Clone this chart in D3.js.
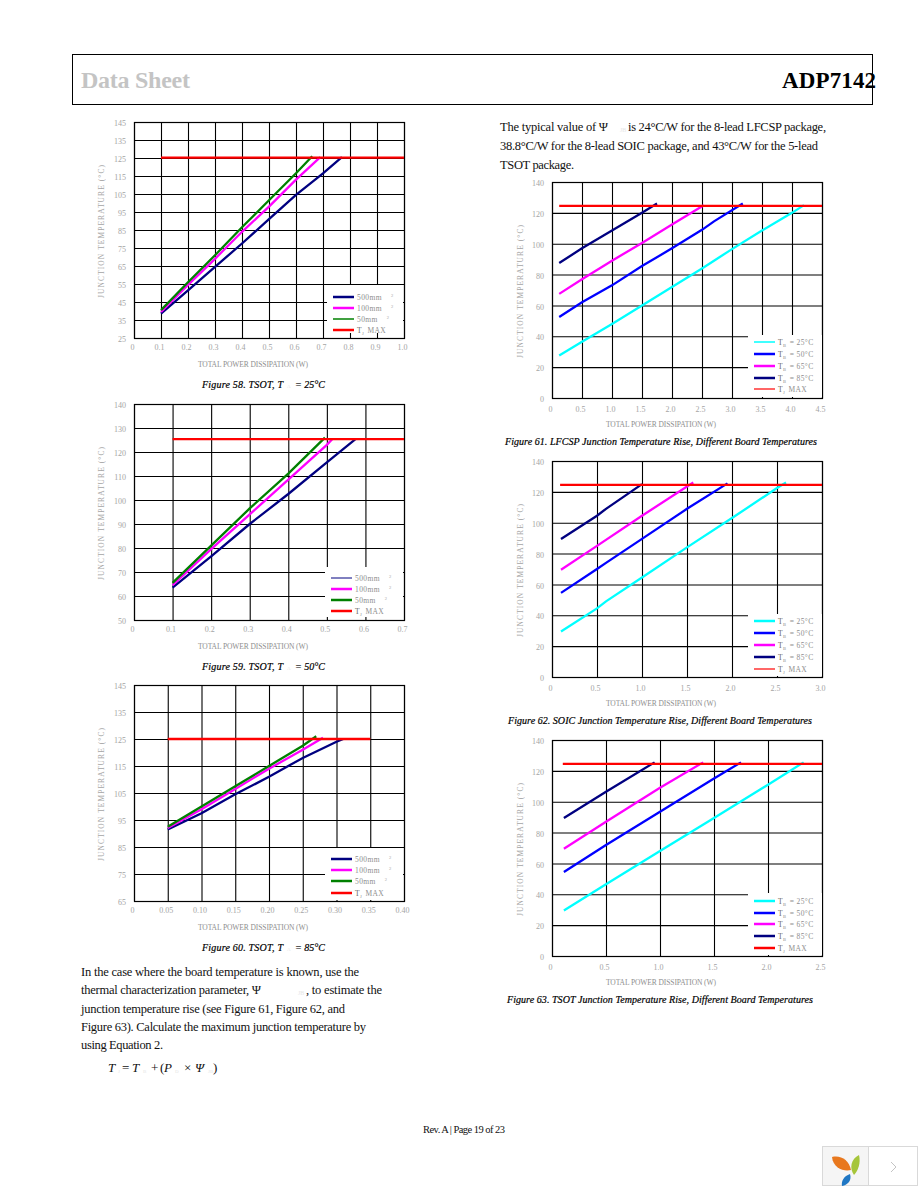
<!DOCTYPE html>
<html><head><meta charset="utf-8">
<script src="https://cdn.jsdelivr.net/npm/d3@7"></script>
<style>
html,body{margin:0;padding:0;background:#fff}
svg{display:block}
text{font-family:"Liberation Serif",serif}
</style></head><body>
<svg id="page" width="918" height="1188"></svg>
<script>
// ---------- DATA ----------
const xTicks58 = [0,0.1,0.2,0.3,0.4,0.5,0.6,0.7,0.8,0.9,1.0];
const yTicks58 = [25,35,45,55,65,75,85,95,105,115,125,135,145];
const xTicks59 = [0,0.1,0.2,0.3,0.4,0.5,0.6,0.7];
const yTicks59 = [50,60,70,80,90,100,110,120,130,140];
const xTicks60 = [0,0.05,0.10,0.15,0.20,0.25,0.30,0.35,0.40];
const yTicks60 = [65,75,85,95,105,115,125,135,145];
const xTicks61 = [0,0.5,1.0,1.5,2.0,2.5,3.0,3.5,4.0,4.5];
const xTicks62 = [0,0.5,1.0,1.5,2.0,2.5,3.0];
const xTicks63 = [0,0.5,1.0,1.5,2.0,2.5];
const yTicksRise = [0,20,40,60,80,100,120,140];

const areaNames = ["500mm","100mm","50mm"];
const boardNames = ["25°C","50°C","65°C","85°C"];

const f58_500 = [[0.1,38.5],[0.2,51.5],[0.3,64.5],[0.4,77.5],[0.5,91],[0.6,104.5],[0.7,116.5],[0.77,125.5]];
const f58_100 = [[0.1,39.5],[0.2,54.5],[0.3,69],[0.4,84],[0.5,98],[0.6,113],[0.69,125.5]];
const f58_50  = [[0.1,40.5],[0.2,56],[0.3,71],[0.4,86.5],[0.5,101.5],[0.6,116.5],[0.66,126]];
const f58_max = [[0.1,125.2],[1.0,125.2]];

const f59_500 = [[0.1,63.5],[0.2,76.5],[0.3,90],[0.4,102.5],[0.5,115.7],[0.575,125.5]];
const f59_100 = [[0.1,64.5],[0.2,79.5],[0.3,94],[0.4,108.5],[0.5,123],[0.515,125.5]];
const f59_50  = [[0.1,65.5],[0.2,81],[0.3,96.5],[0.4,111],[0.495,126]];
const f59_max = [[0.1,125.4],[0.7,125.4]];

const f60_500 = [[0.05,91.5],[0.1,97.5],[0.15,104.5],[0.2,111],[0.25,118],[0.3,124],[0.31,125]];
const f60_100 = [[0.05,92],[0.1,99],[0.15,106.5],[0.2,114],[0.25,121],[0.28,125.5]];
const f60_50  = [[0.05,92.5],[0.1,100],[0.15,107.5],[0.2,115],[0.25,122.5],[0.27,126]];
const f60_max = [[0.05,125],[0.35,125]];

const f61_25 = [[0.12,27.5],[0.5,36.5],[1.0,48],[1.5,60],[2.0,72],[2.5,84],[2.7,89],[3.0,96.5],[3.5,108.5],[4.0,120],[4.2,125]];
const f61_50 = [[0.12,52.5],[0.5,62],[1.0,73],[1.5,85.5],[2.0,97],[2.5,109],[2.7,114.5],[3.18,126]];
const f61_65 = [[0.12,67.5],[0.5,77],[1.0,89],[1.5,100.5],[2.0,112.5],[2.53,125]];
const f61_85 = [[0.12,87.5],[0.5,97],[1.0,108.5],[1.5,120],[1.75,126]];
const f61_max = [[0.12,124.5],[4.5,124.5]];

const f62_25 = [[0.1,29.5],[0.5,44.5],[0.6,49],[1.0,64.5],[1.5,84],[2.0,103],[2.5,122.5],[2.6,126]];
const f62_50 = [[0.1,54.5],[0.5,70],[0.6,74],[1.0,89.5],[1.5,109],[1.95,125.5]];
const f62_65 = [[0.1,69.5],[0.5,85],[1.0,104.5],[1.5,123.5],[1.57,126]];
const f62_85 = [[0.1,89.5],[0.5,104.5],[0.6,109],[1.0,125]];
const f62_max = [[0.09,124.5],[3.0,124.5]];

const f63_25 = [[0.11,29.5],[0.5,46.5],[1.0,68],[1.5,89.5],[2.0,111],[2.33,125.5]];
const f63_50 = [[0.11,54.5],[0.5,72],[1.0,93.5],[1.5,115],[1.75,125.5]];
const f63_65 = [[0.11,69.5],[0.5,87],[1.0,109],[1.4,125.5]];
const f63_85 = [[0.11,89.5],[0.5,106.5],[0.95,125.5]];
const f63_max = [[0.1,124.5],[2.5,124.5]];

// ---------- PAGE FURNITURE ----------
const svg = d3.select("#page");
const NAVY="#000080",MAG="#ff00ff",GRN="#008000",RED="#ff0000",BLU="#0000ff",CYA="#00ffff";
const TICK="#a4a4a4", LAB="#8e8e8e", FAINT="#e6e6e6";

function put(x,y,s,o={}){
  const t = svg.append("text").attr("x",x).attr("y",y).text(s)
    .attr("font-size",o.size||12.5).attr("fill",o.fill||"#111");
  if(o.italic) t.attr("font-style","italic");
  if(o.bold) t.attr("font-weight","bold");
  if(o.len) t.attr("textLength",o.len).attr("lengthAdjust","spacing");
  if(o.anchor) t.attr("text-anchor",o.anchor);
  return t;
}

svg.append("rect").attr("x",72.5).attr("y",54.5).attr("width",800).attr("height",50)
  .attr("fill","none").attr("stroke","#000");
put(81,88,"Data Sheet",{size:24,bold:true,fill:"#c4c4c4",len:109});
put(782,88,"ADP7142",{size:23,bold:true,fill:"#000",len:94});

// right column intro
put(500,131,"The typical value of Ψ",{len:108});
put(620,132,"JB",{size:6,fill:FAINT});
put(628,131,"is 24°C/W for the 8-lead LFCSP package,",{len:198});
put(500,150,"38.8°C/W for the 8-lead SOIC package, and 43°C/W for the 5-lead",{len:318});
put(500,169,"TSOT package.",{len:74});

// left column text
put(81,976,"In the case where the board temperature is known, use the",{len:278});
put(81,994,"thermal characterization parameter, Ψ",{len:180});
put(298,995,"JB",{size:6,fill:FAINT});
put(306,994,", to estimate the",{len:76});
put(81,1013,"junction temperature rise (see Figure 61, Figure 62, and",{len:264});
put(81,1031,"Figure 63). Calculate the maximum junction temperature by",{len:285});
put(81,1049,"using Equation 2.",{len:82});

const eq=[[108,"T",1],[122,"=",0],[132,"T",1],[151,"+",0],[160,"(",0],[164,"P",1],[184,"×",0],[195,"Ψ",1],[213,")",0]];
eq.forEach(e=>put(e[0],1072,e[1],{size:13,italic:!!e[2]}));
[[118,"J"],[143,"B"],[175,"D"],[208,"JB"]].forEach(e=>put(e[0],1073,e[1],{size:5,fill:FAINT}));

put(464,1133,"Rev. A | Page 19 of 23",{size:10.5,anchor:"middle",len:82});

// corner widget
const w = svg.append("g");
w.append("rect").attr("x",822.5).attr("y",1146.5).attr("width",46).attr("height",39).attr("fill","#f5f5f5").attr("stroke","#d9d9d9");
w.append("rect").attr("x",868.5).attr("y",1146.5).attr("width",49).attr("height",39).attr("fill","#fff").attr("stroke","#d9d9d9");
w.append("path").attr("d","M832,1157 C841,1155 849,1160 851,1170 C844,1172 833,1168 832,1157Z").attr("fill","#e8781e");
w.append("path").attr("d","M859,1155 C861,1163 858,1171 854,1175 C849,1168 851,1159 859,1155Z").attr("fill","#a5c53a");
w.append("path").attr("d","M850,1174 C852,1180 848,1185 842,1186 C841,1181 844,1176 850,1174Z").attr("fill","#1f77c4");
w.append("path").attr("d","M891,1162 L896,1167 L891,1172").attr("fill","none").attr("stroke","#c4c4c4").attr("stroke-width",1);

// ---------- CHARTS ----------
const rowsArea=(ws)=>[
 {c:NAVY,w:ws[0],n:areaNames[0],kind:"area"},
 {c:MAG, w:ws[1],n:areaNames[1],kind:"area"},
 {c:GRN, w:ws[2],n:areaNames[2],kind:"area"},
 {c:RED, w:ws[3],kind:"max"}];
const rowsBoard=(ws)=>[
 {c:CYA, w:ws[0],n:boardNames[0],kind:"board"},
 {c:BLU, w:ws[1],n:boardNames[1],kind:"board"},
 {c:MAG, w:ws[2],n:boardNames[2],kind:"board"},
 {c:NAVY,w:ws[3],n:boardNames[3],kind:"board"},
 {c:RED, w:ws[4],kind:"max"}];

const charts=[
 {l:134,t:122,b:338,xd:[0,1],yd:[25,145],xt:xTicks58,yt:yTicks58,fx:d3.format(".1f"),
  s:[[f58_500,NAVY],[f58_100,MAG],[f58_50,GRN],[f58_max,RED]],
  rows:rowsArea([2.5,2.5,1.5,2.5]),box:[327,285,76,48],ly:[297,308,319,330],
  num:"58",cap:"Figure 58.  TSOT, T",capEnd:"= 25°C"},
 {l:134,t:404,b:620,xd:[0,0.7],yd:[50,140],xt:xTicks59,yt:yTicks59,fx:d3.format(".1f"),
  s:[[f59_500,NAVY],[f59_100,MAG],[f59_50,GRN],[f59_max,RED]],
  rows:rowsArea([1,2.5,2.5,2.5]),box:[325,567,78,50],ly:[578,589,600,611],
  num:"59",cap:"Figure 59.  TSOT, T",capEnd:"= 50°C"},
 {l:134,t:685,b:901,xd:[0,0.4],yd:[65,145],xt:xTicks60,yt:yTicks60,fx:d3.format(".2f"),
  s:[[f60_500,NAVY],[f60_100,MAG],[f60_50,GRN],[f60_max,RED]],
  rows:rowsArea([2.5,2.5,2.5,2.5]),box:[325,848,78,52],ly:[859,870,881,893],
  num:"60",cap:"Figure 60.  TSOT, T",capEnd:"= 85°C"},
 {l:552,t:182,b:398,xd:[0,4.5],yd:[0,140],xt:xTicks61,yt:yTicksRise,fx:d3.format(".1f"),
  s:[[f61_25,CYA],[f61_50,BLU],[f61_65,MAG],[f61_85,NAVY],[f61_max,RED]],
  rows:rowsBoard([1.5,2.5,2.5,2.5,1.2]),box:[748,335,74,62],ly:[342,354,366,378,389],
  num:"61",cap:"Figure 61.  LFCSP Junction Temperature Rise, Different Board Temperatures"},
 {l:552,t:461,b:677,xd:[0,3],yd:[0,140],xt:xTicks62,yt:yTicksRise,fx:d3.format(".1f"),
  s:[[f62_25,CYA],[f62_50,BLU],[f62_65,MAG],[f62_85,NAVY],[f62_max,RED]],
  rows:rowsBoard([2.5,2.5,2.5,2.5,1.2]),box:[748,614,74,62],ly:[621,633,645,657,669],
  num:"62",cap:"Figure 62.  SOIC Junction Temperature Rise, Different Board Temperatures"},
 {l:552,t:740,b:956,xd:[0,2.5],yd:[0,140],xt:xTicks63,yt:yTicksRise,fx:d3.format(".1f"),
  s:[[f63_25,CYA],[f63_50,BLU],[f63_65,MAG],[f63_85,NAVY],[f63_max,RED]],
  rows:rowsBoard([2.5,2.5,2.5,2.5,2.5]),box:[748,893,74,62],ly:[901,913,924,936,948],
  num:"63",cap:"Figure 63.  TSOT Junction Temperature Rise, Different Board Temperatures"}
];
const capX={"61":[505,312],"62":[508,304],"63":[507,306]};

charts.forEach(c=>{
  const W=270, r=c.l+W;
  const isLeft=c.l<400;
  const x=d3.scaleLinear().domain(c.xd).range([c.l,r]);
  const y=d3.scaleLinear().domain(c.yd).range([c.b,c.t]);
  const g=svg.append("g");

  const gy=g.append("g").attr("transform",`translate(${c.l},0)`)
    .call(d3.axisLeft(y).tickValues(c.yt).tickSizeInner(-W).tickSizeOuter(0).tickPadding(8).tickFormat(d3.format("d")));
  const gx=g.append("g").attr("transform",`translate(0,${c.b})`)
    .call(d3.axisBottom(x).tickValues(c.xt).tickSizeInner(-(c.b-c.t)).tickSizeOuter(0).tickPadding(isLeft?6:8)
      .tickFormat(d=>d===0?"0":c.fx(d)));
  [gx,gy].forEach(a=>{
    a.select(".domain").attr("stroke","#000");
    a.selectAll(".tick line").attr("stroke","#000").attr("stroke-width",1.1);
    a.selectAll(".tick text").attr("fill",TICK).attr("font-size",8)
      .attr("font-family","Liberation Serif");
  });
  gx.selectAll(".tick text").attr("dx",-2);
  gy.selectAll(".tick text").attr("dy","0.45em");

  g.append("rect").attr("x",c.l+.5).attr("y",c.t+.5).attr("width",W).attr("height",c.b-c.t)
    .attr("fill","none").attr("stroke","#000").attr("stroke-width",1.2);

  // white legend panel sits on the grid, under the curves
  g.append("rect").attr("x",c.box[0]).attr("y",c.box[1]).attr("width",c.box[2]).attr("height",c.box[3]).attr("fill","#fff");

  const line=d3.line().x(d=>x(d[0])).y(d=>y(d[1]));
  g.selectAll("path.curve").data(c.s).join("path").attr("class","curve")
    .attr("d",d=>line(d[0])).attr("fill","none").attr("stroke",d=>d[1]).attr("stroke-width",2.3);

  // legend
  const lx=c.box[0]+6;
  c.rows.forEach((row,i)=>{
    const yy=c.ly[i];
    g.append("line").attr("x1",lx).attr("x2",lx+21).attr("y1",yy).attr("y2",yy)
      .attr("stroke",row.c).attr("stroke-width",row.w);
    const t=g.append("text").attr("x",lx+24).attr("y",yy+3).attr("font-size",7.5).attr("fill",LAB).attr("letter-spacing",0.4);
    if(row.kind==="area"){
      t.append("tspan").text(row.n);
      t.append("tspan").text("2").attr("font-size",4.5).attr("dy",-3).attr("dx",9).attr("fill",TICK);
    } else if(row.kind==="board"){
      t.append("tspan").text("T").attr("fill","#666");
      t.append("tspan").text("B").attr("font-size",4.5).attr("dy",2);
      t.append("tspan").text(" = "+row.n).attr("dy",-2).attr("dx",1);
    } else {
      t.append("tspan").text("T").attr("fill","#666");
      t.append("tspan").text("J").attr("font-size",4.5).attr("dy",2);
      t.append("tspan").text(" MAX").attr("dy",-2).attr("dx",1);
    }
  });

  // axis titles
  g.append("text").attr("x",isLeft?253:661).attr("y",c.b+28.5).attr("text-anchor","middle")
    .attr("font-size",7.5).attr("fill",LAB).attr("textLength",110).attr("lengthAdjust","spacing")
    .text("TOTAL POWER DISSIPATION (W)");
  const yLabX=isLeft?104:522.5, yc=(c.t+c.b)/2+1.5;
  g.append("text").attr("transform",`translate(${yLabX},${yc}) rotate(-90)`).attr("text-anchor","middle")
    .attr("font-size",7.5).attr("fill",LAB).attr("opacity",.8).attr("textLength",133).attr("lengthAdjust","spacing")
    .text("JUNCTION TEMPERATURE (°C)");

  // caption
  if(isLeft){
    const capY=c.b+50;
    put(202,capY,c.cap,{size:10,italic:true,fill:"#000",len:81}).attr("stroke","#000").attr("stroke-width",.2);
    put(287,capY,"A",{size:5,fill:FAINT});
    put(295,capY,c.capEnd,{size:10,italic:true,fill:"#000",len:30}).attr("stroke","#000").attr("stroke-width",.2);
  } else {
    const p=capX[c.num];
    put(p[0],c.b+47,c.cap,{size:10,italic:true,fill:"#000",len:p[1]}).attr("stroke","#000").attr("stroke-width",.2);
  }
});
</script>
</body></html>
